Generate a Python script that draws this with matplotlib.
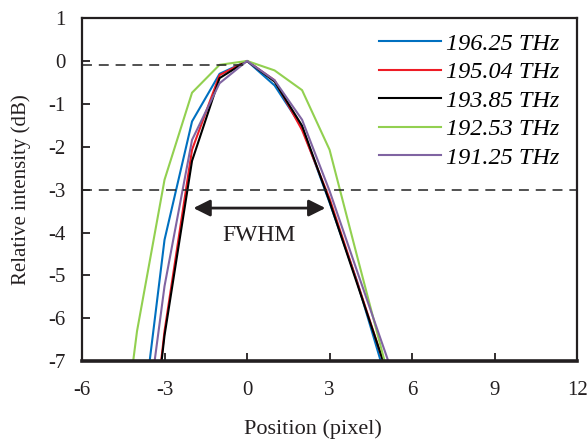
import matplotlib
matplotlib.use("Agg")
import matplotlib.pyplot as plt

plt.rcParams['font.family'] = ['Liberation Serif', 'DejaVu Serif']
plt.rcParams['axes.unicode_minus'] = False

positions = [-5, -4, -3, -2, -1, 0, 1, 2, 3, 4, 5, 6]
labels = ["196.25 THz", "195.04 THz", "193.85 THz", "192.53 THz", "191.25 THz"]
colors = ["#0070C0", "#EE1C25", "#000000", "#92D050", "#8064A2"]
s196_25 = [-14.0, -9.4, -4.17, -1.41, -0.30, 0.0, -0.57, -1.55, -3.30, -5.14, -7.3, -9.5]
s195_04 = [-17.0, -12.0, -6.3, -2.07, -0.33, 0.0, -0.45, -1.61, -3.21, -5.15, -7.1, -9.2]
s193_85 = [-17.0, -12.0, -6.4, -2.33, -0.40, 0.0, -0.48, -1.51, -3.28, -5.19, -7.1, -9.2]
s192_53 = [-11.3, -6.3, -2.77, -0.74, -0.09, 0.0, -0.22, -0.68, -2.07, -4.55, -7.0, -9.5]
s191_25 = [-15.0, -10.1, -5.25, -1.84, -0.52, 0.0, -0.45, -1.37, -3.03, -4.90, -6.75, -8.6]
series = [s196_25, s195_04, s193_85, s192_53, s191_25]

xticks = [-6, -3, 0, 3, 6, 9, 12]
yticks = [1, 0, -1, -2, -3, -4, -5, -6, -7]

fig = plt.figure(figsize=(5.87, 4.41), dpi=100)
ax = fig.add_axes([0.1397, 0.181, 0.8435, 0.778])

for ys, c, lab in zip(series, colors, labels):
    ax.plot(positions, ys, color=c, lw=1.5, label=lab)

ax.plot([-6, 0], [-0.1, -0.1], color='#222222', lw=1.1, ls=(0, (6.5, 4.5)))
ax.axhline(-3, color='#222222', lw=1.1, ls=(0, (6.5, 4.5)))

ax.annotate('', xy=(-1.95, -3.43), xytext=(2.85, -3.43),
            arrowprops=dict(arrowstyle='<|-|>', color='#231F20', lw=2.0,
                            mutation_scale=25, shrinkA=0, shrinkB=0))
ax.text(0.45, -4.08, 'FWHM', ha='center', va='center', fontsize=17, color='#231F20')

ax.set_xlim(-6, 12)
ax.set_ylim(-7, 1)
ax.set_xticks(xticks)
ax.set_yticks(yticks)
ax.set_xticklabels([str(v) for v in xticks])
ax.set_yticklabels([str(v) for v in yticks])
ax.tick_params(direction='in', length=6, width=1.3, labelsize=15, colors='#231F20',
               top=False, right=False)
ax.tick_params(axis='x', pad=14)
ax.tick_params(axis='y', pad=12)
for side, w in [('left', 1.6), ('right', 1.6), ('top', 1.6), ('bottom', 2.6)]:
    ax.spines[side].set_linewidth(w)
    ax.spines[side].set_color('#231F20')

ax.set_xlabel('Position (pixel)', fontsize=16, labelpad=10, color='#231F20')
ax.xaxis.set_label_coords(0.466, -0.17)
ax.set_ylabel('Relative intensity (dB)', fontsize=15, labelpad=12, color='#231F20')

leg = ax.legend(loc='upper right', frameon=False, prop={'style': 'italic', 'size': 17.5},
                handlelength=2.55, labelspacing=0.27, handletextpad=0.2,
                borderaxespad=0.2, bbox_to_anchor=(0.993, 1.0))

fig.savefig('out.png', dpi=100)
